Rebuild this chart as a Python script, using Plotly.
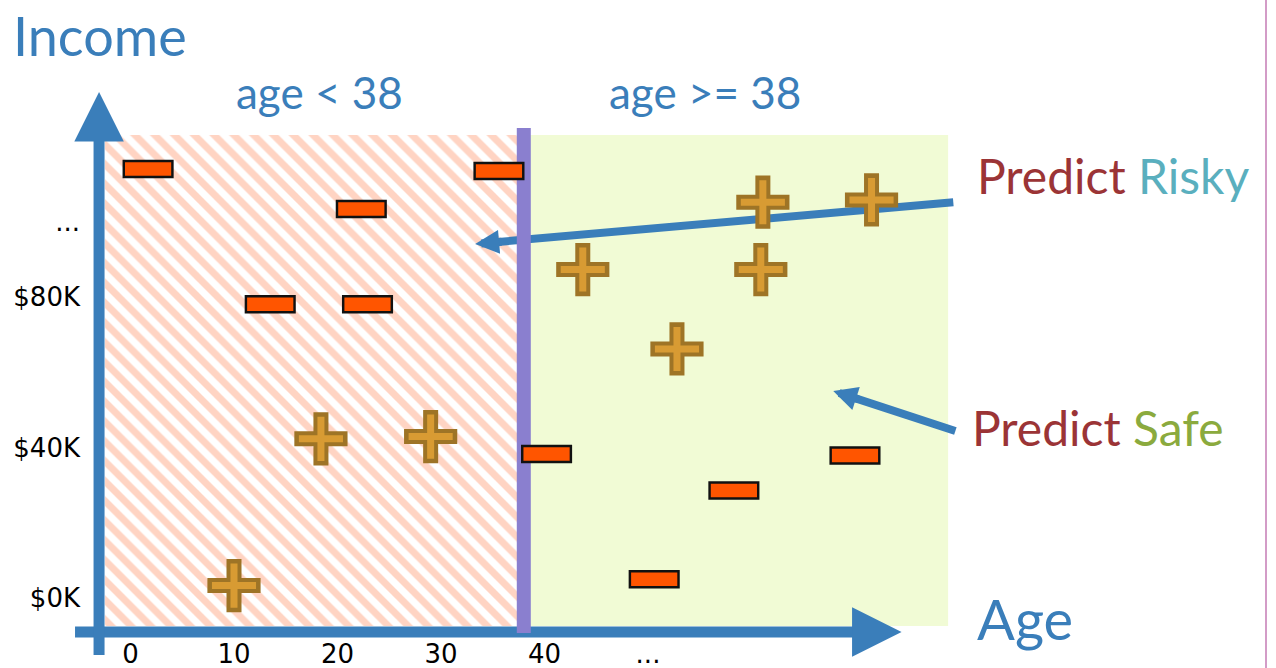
import plotly.graph_objects as go

# ---------------------------------------------------------------- data
# loan applicants: age (years) and income ($K)
risky_age = [1.7, 35.6, 22.3, 13.5, 22.9, 40.2, 58.3, 70.0, 50.6]
risky_income = [114.0, 113.5, 103.4, 78.1, 78.1, 38.3, 28.6, 37.9, 5.0]
safe_age = [61.1, 71.6, 43.7, 60.9, 52.8, 18.4, 29.0, 10.0]
safe_income = [105.2, 105.8, 87.3, 87.3, 66.2, 42.3, 42.9, 3.3]

split_age = 38  # decision stump threshold

x_tick_vals = [0, 10, 20, 30, 40, 50]
x_tick_text = ["0", "10", "20", "30", "40", "..."]
y_tick_vals = [0, 40, 80, 100]
y_tick_text = ["$0K", "$40K", "$80K", "..."]

# --------------------------------------------------------------- layout
W, H = 1276, 668
X_RANGE = [-12.61, 110.68]
Y_RANGE = [-18.60, 158.94]
PX_X = W / (X_RANGE[1] - X_RANGE[0])   # pixels per year
PX_Y = H / (Y_RANGE[1] - Y_RANGE[0])   # pixels per $K

BLUE = "#3A7EBA"
PURPLE = "#8A7FCF"
HATCH = "#FFA987"
GREEN = "#F1FBD5"
MINUS = "#FF5500"
PLUS_EDGE = "#9E7426"
PLUS_FILL = "#D89B33"
TEXT_FONT = "Lato"

# region extents
region_age = [-2.46, 79.0]
region_income = [-7.44, 123.06]

fig = go.Figure()


def box(x0, x1, y0, y1):
    return [x0, x1, x1, x0, x0], [y0, y0, y1, y1, y0]


# hatched "age < 38" region
bx, by = box(region_age[0], split_age, region_income[0], region_income[1])
fig.add_trace(go.Scatter(
    x=bx, y=by, mode="lines", fill="toself", line=dict(width=0),
    fillcolor="white",
    fillpattern=dict(shape="\\", fgcolor=HATCH, bgcolor="white",
                     size=14, solidity=0.5),
    hoverinfo="skip", showlegend=False))

# light green "age >= 38" region
bx, by = box(split_age, region_age[1], region_income[0], region_income[1])
fig.add_trace(go.Scatter(
    x=bx, y=by, mode="lines", fill="toself", line=dict(width=0),
    fillcolor=GREEN, hoverinfo="skip", showlegend=False))

annotations = []


def arrow(tail, tip, width, head_size, back_px):
    """Shaft as a trace (so later traces sit on top), head as an annotation."""
    dxp = (tip[0] - tail[0]) * PX_X
    dyp = (tip[1] - tail[1]) * PX_Y
    length = (dxp ** 2 + dyp ** 2) ** 0.5
    f = 1 - back_px / length
    end = (tail[0] + (tip[0] - tail[0]) * f, tail[1] + (tip[1] - tail[1]) * f)
    fig.add_trace(go.Scatter(
        x=[tail[0], end[0]], y=[tail[1], end[1]], mode="lines",
        line=dict(color=BLUE, width=width), hoverinfo="skip",
        showlegend=False))
    ux, uy = dxp / length, dyp / length
    annotations.append(dict(
        x=tip[0], y=tip[1], xref="x", yref="y", text="",
        showarrow=True, arrowhead=2, arrowsize=head_size,
        arrowwidth=width, arrowcolor=BLUE,
        ax=-ux * 2 * back_px, ay=uy * 2 * back_px))


# axes drawn as thick arrows
arrow((-5.36, -9.04), (74.5, -9.04), 11, 0.9, 22)     # Age axis
arrow((-3.04, -15.15), (-3.04, 134.5), 11, 0.9, 22)   # Income axis

# pointer arrows to each region
arrow((79.5, 105.2), (33.3, 94.1), 8, 0.6, 14)
arrow((79.7, 44.4), (67.9, 55.0), 8, 0.6, 14)

# split line at age 38
fig.add_trace(go.Scatter(
    x=[split_age, split_age], y=[-9.3, 124.9], mode="lines",
    line=dict(color=PURPLE, width=14), hoverinfo="skip", showlegend=False))

# risky applicants: orange bars with black outline
fig.add_trace(go.Scatter(
    x=risky_age, y=risky_income, mode="markers", hoverinfo="skip",
    showlegend=False,
    marker=dict(symbol="line-ew", size=36.5, color="#111111",
                line=dict(width=18.5, color="#111111"))))
fig.add_trace(go.Scatter(
    x=risky_age, y=risky_income, mode="markers", hoverinfo="skip",
    showlegend=False,
    marker=dict(symbol="line-ew", size=33, color=MINUS,
                line=dict(width=13.5, color=MINUS))))

# safe applicants: gold plus signs
fig.add_trace(go.Scatter(
    x=safe_age, y=safe_income, mode="markers", hoverinfo="skip",
    showlegend=False,
    marker=dict(symbol="cross-thin", size=38, color=PLUS_EDGE,
                line=dict(width=15, color=PLUS_EDGE))))
fig.add_trace(go.Scatter(
    x=safe_age, y=safe_income, mode="markers", hoverinfo="skip",
    showlegend=False,
    marker=dict(symbol="cross-thin", size=31.5, color=PLUS_FILL,
                line=dict(width=7, color=PLUS_FILL))))


def px_x(p):
    return p / W


def px_y(p):
    return 1 - p / H


def label(text, x, y, size, color=BLUE, xanchor="left"):
    annotations.append(dict(
        x=px_x(x), y=px_y(y), xref="paper", yref="paper", text=text,
        showarrow=False, xanchor=xanchor, yanchor="middle",
        font=dict(family=TEXT_FONT, size=size, color=color)))


label("Income", 11, 35, 54)
label("age &lt; 38", 320, 92, 44, xanchor="center")
label("age &gt;= 38", 705, 92, 44, xanchor="center")
label("<span style='color:#9B3436'>Predict</span> "
      "<span style='color:#5AAFBE'>Risky</span>", 975, 175, 48)
label("<span style='color:#9B3436'>Predict</span> "
      "<span style='color:#8BAA3E'>Safe</span>", 970, 427, 48)
label("Age", 975, 618, 56)

tick_font = dict(family="DejaVu Sans", size=26, color="black")

fig.update_layout(
    width=W, height=H,
    margin=dict(l=0, r=0, t=0, b=0),
    paper_bgcolor="white", plot_bgcolor="white",
    hovermode=False, showlegend=False,
    annotations=annotations,
    shapes=[dict(type="line", xref="paper", yref="paper",
                 x0=1266 / W, x1=1266 / W, y0=0, y1=1,
                 line=dict(color="#C47BB4", width=1.5))],
    xaxis=dict(range=X_RANGE, showgrid=False, zeroline=False,
               showline=False, ticks="", tickvals=x_tick_vals,
               ticktext=x_tick_text, tickfont=tick_font,
               anchor="free", position=1 - 636 / H, automargin=False,
               ticklabelstandoff=0, fixedrange=True),
    yaxis=dict(range=Y_RANGE, showgrid=False, zeroline=False,
               showline=False, ticks="", tickvals=y_tick_vals,
               ticktext=y_tick_text, tickfont=tick_font,
               anchor="free", position=88 / W, automargin=False,
               ticklabelstandoff=8, fixedrange=True),
)

fig.write_html("out.html")
